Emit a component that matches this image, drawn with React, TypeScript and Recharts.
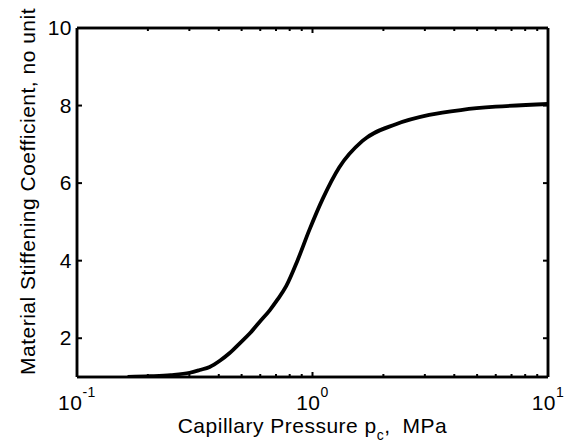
import React from 'react';
import { LineChart, Line, XAxis, YAxis, Label, ReferenceLine } from 'recharts';

const pressure = [0.164, 0.204, 0.25, 0.301, 0.332, 0.366, 0.404, 0.445, 0.491, 0.541, 0.596, 0.658, 0.711, 0.774, 0.863, 0.971, 1.106, 1.3, 1.63, 2.26, 3.13, 4.33, 6.0, 10];
const stiffening = [1.0, 1.02, 1.05, 1.11, 1.18, 1.26, 1.42, 1.62, 1.87, 2.12, 2.42, 2.72, 3.0, 3.35, 4.0, 4.8, 5.6, 6.41, 7.09, 7.52, 7.76, 7.89, 7.97, 8.04];

const xMajor = [0.1, 1, 10];
const xMajorExp = ['-1', '0', '1'];
const xMinor = [0.2, 0.3, 0.4, 0.5, 0.6, 0.7, 0.8, 0.9, 2, 3, 4, 5, 6, 7, 8, 9];
const xTicks = [...xMajor, ...xMinor].sort((a, b) => a - b);
const yTicks = [2, 4, 6, 8, 10];
const xDomain = [0.1, 10];
const yDomain = [1, 10];

const data = pressure.map((p, i) => ({ p, k: stiffening[i] }));

const FONT = 'Liberation Sans, Arial, Helvetica, sans-serif';
const FS = 21;
const LS = 0.5;

const isMajor = (v: number) => xMajor.some((m) => Math.abs(m - v) < 1e-9);

const BottomTick = (props: any) => {
  const { x, y, payload } = props;
  const v = payload.value;
  const major = isMajor(v);
  const idx = xMajor.findIndex((m) => Math.abs(m - v) < 1e-9);
  return (
    <g>
      <line x1={x} x2={x} y1={y} y2={y - (major ? 5 : 3)} stroke="#000" strokeWidth={2} />
      {major && (
        <text x={x} y={y + 33} textAnchor="middle" fontFamily={FONT} fontSize={FS} letterSpacing={LS} fill="#000">
          <tspan>10</tspan>
          <tspan dy={-13} fontSize={14}>{xMajorExp[idx]}</tspan>
        </text>
      )}
    </g>
  );
};

const TopTick = (props: any) => {
  const { x, y, payload } = props;
  const major = isMajor(payload.value);
  return <line x1={x} x2={x} y1={y} y2={y + (major ? 5 : 3)} stroke="#000" strokeWidth={2} />;
};

const LeftTick = (props: any) => {
  const { x, y, payload } = props;
  return (
    <g>
      <line x1={x} x2={x + 5} y1={y} y2={y} stroke="#000" strokeWidth={2} />
      <text x={x - 5} y={y + 7} textAnchor="end" fontFamily={FONT} fontSize={FS} letterSpacing={LS} fill="#000">
        {payload.value}
      </text>
    </g>
  );
};

const RightTick = (props: any) => {
  const { x, y } = props;
  return <line x1={x} x2={x - 5} y1={y} y2={y} stroke="#000" strokeWidth={2} />;
};

const XLabel = (props: any) => {
  const vb = props.viewBox;
  return (
    <text x={vb.x + vb.width / 2} y={vb.y + 56} textAnchor="middle" fontFamily={FONT} fontSize={FS} letterSpacing={LS} fill="#000">
      <tspan>Capillary Pressure p</tspan>
      <tspan dy={7} fontSize={14}>c</tspan>
      <tspan dy={-7}>,</tspan>
      <tspan dx={12}>MPa</tspan>
    </text>
  );
};

const YLabel = (props: any) => {
  const vb = props.viewBox;
  const cx = vb.x + 35;
  const cy = vb.y + vb.height / 2 - 11;
  return (
    <text
      x={cx}
      y={cy}
      transform={`rotate(-90 ${cx} ${cy})`}
      textAnchor="middle"
      fontFamily={FONT}
      fontSize={FS}
      letterSpacing={LS}
      fill="#000"
    >
      Material Stiffening Coefficient, no unit
    </text>
  );
};

const axisLine = { stroke: '#000', strokeWidth: 2.5 };
const frame = { stroke: '#000', strokeWidth: 2.5 };

export default function App() {
  return (
    <div style={{ position: 'absolute', left: 0, top: 0, width: 568, height: 444, background: '#fff' }}>
      <LineChart width={568} height={444} data={data} margin={{ top: 27, right: 19, bottom: 0, left: 0 }}>
        <XAxis
          dataKey="p"
          type="number"
          scale="log"
          domain={xDomain}
          ticks={xTicks}
          interval={0}
          allowDataOverflow
          tickSize={0}
          tickMargin={0}
          tickLine={false}
          axisLine={axisLine}
          tick={BottomTick}
          height={67}
        >
          <Label content={XLabel} />
        </XAxis>
        <XAxis
          xAxisId="top"
          orientation="top"
          dataKey="p"
          type="number"
          scale="log"
          domain={xDomain}
          ticks={xTicks}
          interval={0}
          allowDataOverflow
          tickSize={0}
          tickMargin={0}
          tickLine={false}
          axisLine={axisLine}
          tick={TopTick}
          height={1}
        />
        <YAxis
          type="number"
          domain={yDomain}
          ticks={yTicks}
          interval={0}
          allowDataOverflow
          tickSize={0}
          tickMargin={0}
          tickLine={false}
          axisLine={axisLine}
          tick={LeftTick}
          width={77}
        >
          <Label content={YLabel} />
        </YAxis>
        <YAxis
          yAxisId="right"
          orientation="right"
          type="number"
          domain={yDomain}
          ticks={yTicks}
          interval={0}
          allowDataOverflow
          tickSize={0}
          tickMargin={0}
          tickLine={false}
          axisLine={axisLine}
          tick={RightTick}
          width={1}
        />
        <ReferenceLine x={xDomain[0]} {...frame} />
        <ReferenceLine x={xDomain[1]} {...frame} />
        <ReferenceLine y={yDomain[0]} {...frame} />
        <ReferenceLine y={yDomain[1]} {...frame} />
        <Line
          type="monotone"
          dataKey="k"
          stroke="#000"
          strokeWidth={3.8}
          dot={false}
          isAnimationActive={false}
        />
      </LineChart>
    </div>
  );
}
